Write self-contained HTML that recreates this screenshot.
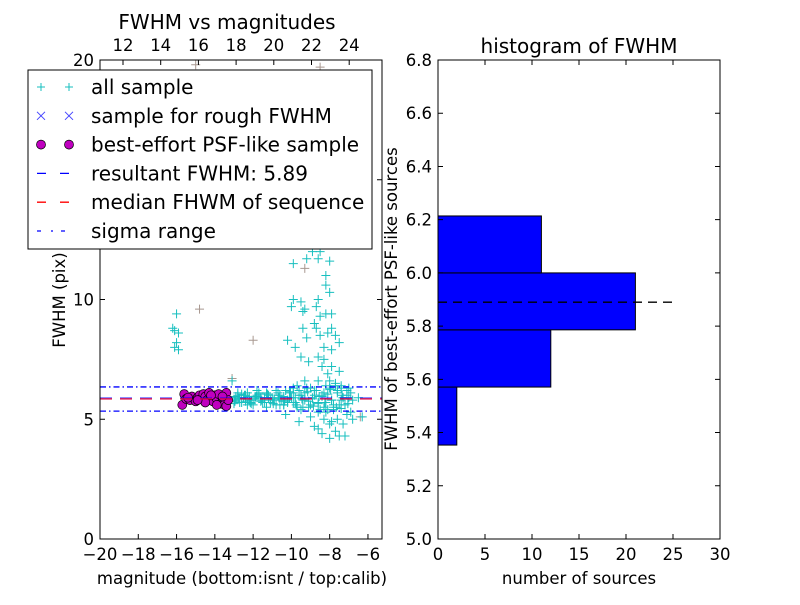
<!DOCTYPE html>
<html><head><meta charset="utf-8"><style>
body{margin:0;background:#fff}
svg text{font-family:"DejaVu Sans","Liberation Sans",sans-serif;fill:#000}
</style></head><body>
<svg id="c" width="800" height="600" xmlns="http://www.w3.org/2000/svg"></svg>
<script>
// ---- data ----
const allMag=[-9.9,-9.2,-8.9,-8.5,-8.6,-8.0,-8.2,-8.2,-8.0,-8.6,-9.9,-9.5,-10.0,-9.3,-9.4,-8.7,-8.5,-8.2,-7.9,-8.8,-8.7,-7.9,-8.5,-8.1,-7.7,-9.4,-9.2,-7.5,-9.8,-8.3,-7.9,-8.6,-8.3,-8.4,-9.1,-9.5,-7.9,-7.5,-8.1,-8.6,-8.0,-7.7,-9.7,-9.3,-7.4,-7.0,-6.9,-10.2,-16.0,-16.1,-15.9,-16.2,-16.0,-16.1,-15.9,-13.1,
-8.3,-8.0,-8.6,-7.7,-7.2,-7.5,-8.0,-7.6,-6.8,-6.3,-7.3,-9.6,-10.3,-9.0,-8.8,-8.2,-7.9,-8.4,-7.1,
-13.0,-12.8,-12.6,-12.5,-12.3,-12.1,-12.0,-11.8,-11.6,-11.5,-11.3,-11.1,-11.0,-10.8,-10.7,-10.5,-10.3,-10.2,-10.0,-9.9,-9.7,-9.5,-9.4,-9.2,-9.0,-8.9,-8.7,-8.5,-8.4,-8.2,-8.0,-7.8,-7.6,-7.4,-7.2,-7.0,
-12.9,-12.7,-12.4,-12.2,-11.9,-11.7,-11.4,-11.2,-10.9,-10.6,-10.4,-10.1,-9.8,-9.6,-9.3,-9.1,-8.8,-8.6,-8.3,-8.1,-7.9,-7.7,-7.5,-7.3,-7.1,
-12.8,-12.3,-11.8,-11.3,-10.8,-10.4,-9.9,-9.5,-9.0,-8.6,-8.2,-7.8,-7.4,-6.9,-6.5,
-13.0,-12.9,-12.7,-12.6,-12.4,-12.2,-12.1,-11.9,-11.7,-11.6,-11.4,-11.2,-11.1,-10.9,-10.7,-10.6,-10.4,-10.2,-10.1,-9.9,-9.8,-9.6,-9.4,-9.3,-9.1,-8.9,-8.8,-8.6,-8.4,-8.3,-8.1,-7.9,-7.8,-7.6,-7.4,-7.3,-7.1,
-12.95,-12.75,-12.45,-12.15,-11.85,-11.55,-11.25,-10.95,-10.65,-10.35,-10.05,-9.75,-9.45,-9.15,-8.85,-8.55,-8.25,-7.95,-7.65,-7.35,-7.05,-6.8];
const allFwhm=[11.5,11.7,12.0,12.0,11.7,11.6,11.0,10.6,10.3,10.0,10.0,9.9,9.7,9.6,9.5,9.7,9.3,9.4,9.4,9.0,8.8,8.8,8.5,8.6,8.5,8.8,8.4,8.2,8.0,8.0,7.9,7.6,7.5,7.2,7.4,7.6,7.2,7.0,6.9,6.6,6.6,6.5,6.4,6.6,6.3,6.3,6.1,8.3,9.4,8.7,8.6,8.8,8.2,8.0,7.9,6.6,
5.0,4.8,4.6,4.5,4.3,4.3,4.2,5.0,5.0,5.1,4.8,4.9,5.2,5.1,4.7,5.3,4.9,4.4,5.2,
5.8,6.0,5.7,5.9,6.1,5.8,5.6,6.0,5.9,5.7,6.1,5.8,5.9,5.6,6.0,5.8,6.2,5.7,5.9,6.1,5.5,6.0,5.8,6.3,5.6,5.9,6.2,5.4,6.0,5.7,6.3,5.5,6.1,5.8,5.6,5.9,
5.9,5.7,6.0,5.8,5.9,6.1,5.7,5.9,5.8,6.0,5.6,5.9,5.7,6.2,5.8,5.5,6.0,5.7,6.1,5.4,5.8,6.4,5.6,5.9,6.2,
6.1,5.6,6.2,5.5,6.2,5.6,6.3,5.4,6.3,5.3,6.4,5.4,6.4,5.3,5.9,
5.65,5.95,5.85,6.05,5.75,5.95,5.65,5.85,6.05,5.75,5.9,6.0,5.7,5.85,6.1,5.6,5.95,5.8,6.15,5.7,5.9,6.0,5.5,6.1,5.75,5.85,6.2,5.65,5.95,5.5,6.05,5.8,5.6,6.2,5.45,5.9,6.0,
5.75,5.85,6.0,5.7,5.95,5.8,6.05,5.65,5.9,5.75,6.1,5.6,5.85,6.15,5.55,5.95,5.7,6.25,5.5,6.0,5.65,5.8];
const grayMag=[-15.0,-8.5,-14.8,-12.0,-13.1,-9.3,-6.4];
const grayFwhm=[19.8,19.7,9.6,8.3,6.7,11.3,5.1];
const psfMag=[-15.7,-15.6,-15.5,-15.3,-15.2,-15.0,-14.9,-14.8,-14.7,-14.6,-14.5,-14.4,-14.3,-14.2,-14.1,-14.0,-13.9,-13.8,-13.7,-13.6,-13.5,-13.4,-13.4,-13.3,-14.5,-14.2,-13.9,-13.6,-15.4,-14.9];
const psfFwhm=[5.6,6.05,5.85,5.8,5.95,5.75,5.9,6.0,5.85,6.05,5.95,5.8,6.1,5.9,5.75,6.0,5.85,6.05,5.65,5.9,5.6,6.1,5.55,5.8,5.7,6.0,5.6,5.95,5.9,5.8];
const resultFwhm=5.89, medianFwhm=5.85, sigLo=5.34, sigHi=6.35;
const binEdges=[5.353,5.571,5.786,6.0,6.214];
const binCounts=[2,12,21,11];
const leftXTicks=[-20,-18,-16,-14,-12,-10,-8,-6];
const topXTicks=[12,14,16,18,20,22,24];
const leftYTicks=[0,5,10,15,20];
const rightXTicks=[0,5,10,15,20,25,30];
const rightYTicks=[5.0,5.2,5.4,5.6,5.8,6.0,6.2,6.4,6.6,6.8];

const S='http://www.w3.org/2000/svg', svg=document.getElementById('c');
function el(t,a,p){const e=document.createElementNS(S,t);for(const k in a)e.setAttribute(k,a[k]);(p||svg).appendChild(e);return e;}
function txt(x,y,s,size,anchor,p){const e=el('text',{x:x,y:y,'font-size':size,'text-anchor':anchor||'middle'},p);e.textContent=s;return e;}
const TK=16.5, TT=20;

const L={x0:100,x1:382,y0:60,y1:539};
const lx=v=>L.x0+(v+20)*19.14, ly=v=>L.y1-v*23.95, tx=v=>123+(v-12)*18.85;
const R={x0:438,x1:720,y0:60,y1:539};
const rx=v=>R.x0+v*9.4, ry=v=>R.y1-(v-5)*266.1;

const gl=el('g',{});

el('rect',{x:L.x0,y:L.y0,width:L.x1-L.x0,height:L.y1-L.y0,fill:'#fff'},gl);
el('clipPath',{id:'cl'},gl).appendChild(el('rect',{x:L.x0,y:L.y0,width:L.x1-L.x0,height:L.y1-L.y0},gl));
const pg=el('g',{'clip-path':'url(#cl)'},gl);
function plus(x,y,c,p){return el('path',{d:`M${x-4.5},${y}h9M${x},${y-4.5}v9`,stroke:c,'stroke-width':1,fill:'none'},p);}
grayMag.forEach((m,i)=>{const e=plus(lx(m),ly(grayFwhm[i]),'#a89890',pg);});
allMag.forEach((m,i)=>{const e=plus(lx(m),ly(allFwhm[i]),'#17bfbf',pg);});
psfMag.forEach((m,i)=>{const e=el('circle',{cx:lx(m),cy:ly(psfFwhm[i]),r:4.5,fill:'#bf00bf',stroke:'#000','stroke-width':0.7},pg);});
[[sigHi,'sigma-hi-line'],[sigLo,'sigma-lo-line']].forEach(([v,n])=>{const e=el('line',{x1:L.x0,x2:L.x1,y1:ly(v),y2:ly(v),stroke:'#0000ff','stroke-width':1.3,'stroke-dasharray':'6,3,1.5,3'},pg);});
let e1=el('line',{x1:L.x0,x2:L.x1,y1:ly(resultFwhm),y2:ly(resultFwhm),stroke:'#0000ff','stroke-width':1.3,'stroke-dasharray':'12,8',opacity:0.6},pg);

let e2=el('line',{x1:L.x0,x2:L.x1,y1:ly(medianFwhm),y2:ly(medianFwhm),stroke:'#e0003a','stroke-width':1.5,'stroke-dasharray':'12,8',opacity:0.85},pg);

el('rect',{x:L.x0,y:L.y0,width:L.x1-L.x0,height:L.y1-L.y0,fill:'none',stroke:'#000','stroke-width':1},gl);
leftXTicks.forEach(v=>{const x=lx(v);el('path',{d:`M${x},${L.y1}v-5`,stroke:'#000'},gl);const t=txt(x,L.y1+21,(v<0?'\u2212':'')+Math.abs(v),TK,'middle',gl);});
topXTicks.forEach(v=>{const x=tx(v);el('path',{d:`M${x},${L.y0}v5`,stroke:'#000'},gl);const t=txt(x,L.y0-9,String(v),TK,'middle',gl);});
leftYTicks.forEach(v=>{const y=ly(v);el('path',{d:`M${L.x0},${y}h5M${L.x1},${y}h-5`,stroke:'#000'},gl);const t=txt(L.x0-6,y+6,String(v),TK,'end',gl);});
let t1=txt(242,584,'magnitude (bottom:isnt / top:calib)',TK,'middle',gl);
let t2=txt(0,0,'FWHM (pix)',TK,'middle',gl);t2.setAttribute('transform','translate(65,300) rotate(-90)');
let t3=txt(227,29,'FWHM vs magnitudes',TT,'middle',gl);

const lg=el('g',{});
el('rect',{x:28,y:70,width:344,height:179,fill:'#fff',stroke:'#000','stroke-width':1},lg);
const labels=['all sample','sample for rough FWHM','best-effort PSF-like sample','resultant FWHM: 5.89','median FHWM of sequence','sigma range'];
labels.forEach((s,i)=>{const y=87+i*28.8;const g=el('g',{},lg);
 [41,69].forEach(x=>{
  if(i==0)el('path',{d:`M${x-4},${y}h8M${x},${y-4}v8`,stroke:'#17bfbf'},g);
  if(i==1)el('path',{d:`M${x-4},${y-4}l8,8M${x+4},${y-4}l-8,8`,stroke:'#4444ff'},g);
  if(i==2)el('circle',{cx:x,cy:y,r:4.5,fill:'#bf00bf',stroke:'#000','stroke-width':0.7},g);
 });
 if(i==3)el('path',{d:`M37,${y}h9M60,${y}h9`,stroke:'#0000ff','stroke-width':1.3},g);
 if(i==4)el('path',{d:`M37,${y}h9M60,${y}h9`,stroke:'#ff0000','stroke-width':1.3},g);
 if(i==5)el('path',{d:`M37,${y}h4M51,${y}h2M61,${y}h4`,stroke:'#0000ff','stroke-width':1.3},g);
 txt(91,y+7,s,TT,'start',g);
});

const gr=el('g',{});
el('rect',{x:R.x0,y:R.y0,width:R.x1-R.x0,height:R.y1-R.y0,fill:'#fff'},gr);
binCounts.forEach((c,i)=>{const y0=ry(binEdges[i+1]),y1=ry(binEdges[i]);const b=el('rect',{x:rx(0),y:y0,width:rx(c)-rx(0),height:y1-y0,fill:'#0000ff',stroke:'#000','stroke-width':1},gr);});
let dl=el('line',{x1:rx(0),x2:rx(25.3),y1:ry(resultFwhm),y2:ry(resultFwhm),stroke:'#000','stroke-width':1.3,'stroke-dasharray':'9,6'},gr);

el('rect',{x:R.x0,y:R.y0,width:R.x1-R.x0,height:R.y1-R.y0,fill:'none',stroke:'#000','stroke-width':1},gr);
rightXTicks.forEach(v=>{const x=rx(v);el('path',{d:`M${x},${R.y1}v-5M${x},${R.y0}v5`,stroke:'#000'},gr);const t=txt(x,R.y1+21,String(v),TK,'middle',gr);});
rightYTicks.forEach(v=>{const y=ry(v);el('path',{d:`M${R.x0},${y}h5M${R.x1},${y}h-5`,stroke:'#000'},gr);const t=txt(R.x0-6,y+6,v.toFixed(1),TK,'end',gr);});
let t4=txt(579,584,'number of sources',TK,'middle',gr);
let t5=txt(0,0,'FWHM of best-effort PSF-like sources',TK,'middle',gr);t5.setAttribute('transform','translate(397,299) rotate(-90)');
let t6=txt(579,53,'histogram of FWHM',TT,'middle',gr);
</script>
</body></html>
